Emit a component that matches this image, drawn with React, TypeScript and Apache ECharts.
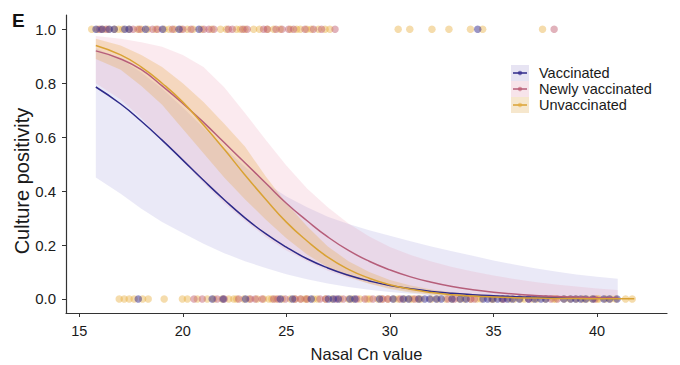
import React, { useEffect, useRef } from "react";
import * as echarts from "echarts";

// ---- axis ticks ----
const xTicks = [15, 20, 25, 30, 35, 40];
const yTicks = [0, 0.2, 0.4, 0.6, 0.8, 1.0];

// ---- fitted curves (Nasal Cn grid) ----
const cnGrid = [15.8, 17, 18, 19, 20, 21, 22, 23, 24, 25, 26, 27, 28, 29, 30, 31, 32, 33, 34, 35, 36, 37, 38, 39, 40, 41];
const cnGridUnvax = [15.8, 17, 18, 19, 20, 21, 22, 23, 24, 25, 26, 27, 28, 29, 30, 31, 32, 33, 34, 35, 36, 37, 38, 39, 40, 41, 41.8];

const vaxFit = [0.786, 0.723, 0.659, 0.589, 0.515, 0.44, 0.368, 0.301, 0.242, 0.192, 0.149, 0.115, 0.088, 0.067, 0.05, 0.038, 0.028, 0.021, 0.016, 0.012, 0.0087, 0.0064, 0.0048, 0.0035, 0.0026, 0.0019];
const vaxLow = [0.45, 0.39, 0.335, 0.285, 0.245, 0.205, 0.17, 0.14, 0.115, 0.092, 0.073, 0.057, 0.044, 0.034, 0.026, 0.019, 0.014, 0.01, 0.007, 0.005, 0.0035, 0.0025, 0.0017, 0.0012, 0.0008, 0.0005];
const vaxHigh = [0.93, 0.89, 0.84, 0.78, 0.71, 0.635, 0.56, 0.49, 0.43, 0.38, 0.34, 0.305, 0.278, 0.255, 0.234, 0.214, 0.195, 0.177, 0.16, 0.143, 0.128, 0.114, 0.102, 0.091, 0.082, 0.075];

const newFit = [0.92, 0.89, 0.85, 0.79, 0.725, 0.655, 0.58, 0.505, 0.43, 0.355, 0.29, 0.23, 0.18, 0.14, 0.108, 0.082, 0.062, 0.046, 0.034, 0.025, 0.018, 0.013, 0.0095, 0.007, 0.005, 0.0036];
const newLow = [0.8, 0.74, 0.67, 0.59, 0.51, 0.43, 0.355, 0.29, 0.23, 0.18, 0.14, 0.105, 0.078, 0.057, 0.041, 0.029, 0.02, 0.014, 0.0095, 0.0065, 0.0045, 0.003, 0.002, 0.0013, 0.0009, 0.0006];
const newHigh = [0.975, 0.965, 0.952, 0.935, 0.905, 0.86, 0.785, 0.69, 0.59, 0.495, 0.41, 0.34, 0.28, 0.232, 0.193, 0.163, 0.139, 0.119, 0.102, 0.087, 0.074, 0.063, 0.054, 0.046, 0.039, 0.033];

const unvaxFit = [0.94, 0.905, 0.86, 0.8, 0.73, 0.645, 0.555, 0.46, 0.37, 0.285, 0.215, 0.155, 0.11, 0.077, 0.053, 0.036, 0.024, 0.016, 0.011, 0.0075, 0.005, 0.0033, 0.0022, 0.0015, 0.001, 0.0007, 0.0005];
const unvaxLow = [0.89, 0.85, 0.79, 0.72, 0.63, 0.54, 0.45, 0.37, 0.295, 0.225, 0.165, 0.118, 0.082, 0.056, 0.037, 0.024, 0.016, 0.01, 0.006, 0.004, 0.0025, 0.0015, 0.001, 0.0006, 0.0004, 0.0002, 0.0001];
const unvaxHigh = [0.965, 0.94, 0.905, 0.86, 0.8, 0.73, 0.65, 0.565, 0.455, 0.355, 0.27, 0.195, 0.14, 0.1, 0.07, 0.05, 0.035, 0.025, 0.018, 0.013, 0.009, 0.0065, 0.0047, 0.0034, 0.0025, 0.0018, 0.0012];

// ---- observations: culture positive (1) ----
const vaxPos = [15.81, 16.1, 16.45, 16.69, 17.2, 17.41, 18.2, 19.02, 19.82, 20.78, 34.24];
const newPos = [16.0, 16.3, 17.6, 17.9, 18.54, 18.78, 19.5, 20.0, 20.4, 21.02, 21.26, 21.5, 22.2, 22.39, 22.9, 23.11, 23.9, 24.07, 24.5, 24.79, 25.11, 25.35, 25.9, 26.31, 26.7, 27.35, 37.93];
const unvaxPos = [15.6, 15.9, 16.14, 16.4, 16.7, 16.9, 17.1, 17.4, 17.82, 18.0, 18.3, 18.7, 19.1, 19.34, 19.6, 19.9, 20.22, 20.5, 20.9, 21.4, 21.82, 22.1, 22.6, 22.78, 23.0, 23.42, 23.7, 24.1, 24.39, 24.7, 25.2, 25.5, 25.67, 25.99, 26.2, 26.55, 26.87, 27.1, 30.4, 30.96, 32.03, 32.85, 33.89, 34.48, 37.37];

// ---- observations: culture negative (0) ----
const vaxNeg = [17.85, 21.42, 21.95, 23.03, 24.71, 25.3, 26.2, 27.03, 27.27, 27.51, 28.07, 28.31, 29.5, 30.15, 30.64, 30.9, 31.4, 31.68, 31.92, 32.24, 32.48, 33.0, 33.4, 33.68, 34.5, 34.72, 34.96, 35.2, 35.44, 35.68, 35.92, 36.25, 36.7, 37.0, 37.29, 37.53, 38.4, 38.73, 38.97, 39.21, 39.45, 39.8, 40.33, 40.6, 40.97];
const newNeg = [20.54, 20.94, 21.66, 22.0, 22.7, 23.27, 23.5, 23.83, 24.39, 24.6, 24.95, 25.43, 25.7, 25.99, 26.63, 26.9, 27.4, 27.75, 28.4, 28.79, 29.18, 29.66, 29.9, 30.5, 31.2, 32.8, 33.12, 33.9, 34.08, 35.5, 36.7, 37.77, 38.09, 39.9];
const unvaxNeg = [16.93, 17.17, 17.41, 17.65, 18.06, 18.33, 19.1, 19.98, 20.22, 20.7, 21.18, 21.5, 21.9, 22.22, 22.46, 22.6, 22.95, 23.2, 23.59, 23.9, 24.15, 24.3, 24.5, 24.8, 25.19, 25.4, 25.67, 25.9, 26.0, 26.31, 26.5, 26.9, 27.2, 27.6, 28.0, 28.2, 28.55, 28.9, 29.03, 29.42, 29.6, 29.9, 30.2, 30.4, 30.7, 30.96, 31.1, 31.36, 31.5, 32.0, 32.3, 32.7, 33.0, 33.36, 33.6, 33.9, 34.2, 34.4, 34.9, 35.0, 35.4, 35.8, 36.0, 36.3, 36.49, 36.89, 37.1, 37.5, 37.9, 38.0, 38.41, 38.7, 39.0, 39.3, 39.5, 39.77, 40.0, 40.09, 40.4, 40.65, 40.9, 41.38, 41.7];

const groups = ["Vaccinated", "Newly vaccinated", "Unvaccinated"];
const lineColors = ["#2e2a8a", "#b65e7a", "#d9a233"];
const bandColors = ["rgba(95,85,195,0.13)", "rgba(232,140,165,0.18)", "rgba(228,165,60,0.27)"];
const pointColors = ["rgba(50,40,140,0.62)", "rgba(190,88,108,0.58)", "rgba(230,170,55,0.52)"];
const keyFills = ["#e7e4f3", "#f7e4ea", "#f6e7cd"];

const FONT = "Liberation Sans, Arial, sans-serif";

function bandSeries(name: string, xs: number[], lo: number[], hi: number[], color: string) {
  return {
    type: "custom",
    name,
    silent: true,
    z: 1,
    data: [[xs[0], lo[0]]],
    renderItem: (_p: any, api: any) => {
      const pts: number[][] = [];
      for (let i = 0; i < xs.length; i++) pts.push(api.coord([xs[i], hi[i]]));
      for (let i = xs.length - 1; i >= 0; i--) pts.push(api.coord([xs[i], lo[i]]));
      return { type: "polygon", shape: { points: pts }, style: { fill: color } };
    },
  };
}

function lineSeries(name: string, xs: number[], ys: number[], color: string) {
  return {
    type: "line",
    name,
    z: 3,
    smooth: true,
    showSymbol: false,
    silent: true,
    lineStyle: { color, width: 1.5 },
    data: xs.map((x, i) => [x, ys[i]]),
  };
}

function pointSeries(name: string, xs: number[], y: number, color: string) {
  return {
    type: "scatter",
    name,
    z: 2,
    symbolSize: 7.5,
    silent: true,
    itemStyle: { color },
    data: xs.map((x) => [x, y]),
  };
}

export default function App() {
  const ref = useRef<HTMLDivElement>(null);
  useEffect(() => {
    if (!ref.current) return;
    const chart = echarts.init(ref.current, undefined, { renderer: "svg" });
    const legendGraphics: any[] = [];
    const rowY = [73, 89, 105];
    groups.forEach((g, i) => {
      legendGraphics.push({
        type: "rect",
        shape: { x: 511, y: rowY[i] - 8, width: 18, height: 16 },
        style: { fill: keyFills[i] },
      });
      legendGraphics.push({
        type: "line",
        shape: { x1: 513, y1: rowY[i], x2: 527, y2: rowY[i] },
        style: { stroke: lineColors[i], lineWidth: 1.5 },
      });
      legendGraphics.push({
        type: "circle",
        shape: { cx: 520, cy: rowY[i], r: 2.2 },
        style: { fill: pointColors[i] },
      });
      legendGraphics.push({
        type: "text",
        x: 539,
        y: rowY[i],
        style: { text: g, fontFamily: FONT, fontSize: 14.5, fill: "#1a1a1a", verticalAlign: "middle" },
      });
    });

    chart.setOption({
      animation: false,
      grid: { left: 66, right: 13, top: 15, bottom: 52, outerBoundsMode: "none", containLabel: false },
      xAxis: {
        type: "value",
        min: 14.36,
        max: 43.38,
        name: "Nasal Cn value",
        nameLocation: "middle",
        nameGap: 32,
        nameTextStyle: { fontFamily: FONT, fontSize: 16.5, color: "#1a1a1a" },
        axisLine: { show: true, onZero: false, lineStyle: { color: "#333", width: 1.2 } },
        axisTick: { show: true, length: 4, customValues: xTicks, lineStyle: { color: "#333" } },
        axisLabel: { customValues: xTicks, fontFamily: FONT, fontSize: 14.5, color: "#1a1a1a", margin: 10 },
        splitLine: { show: false },
      },
      yAxis: {
        type: "value",
        min: -0.052,
        max: 1.053,
        axisLine: { show: true, onZero: false, lineStyle: { color: "#333", width: 1.2 } },
        axisTick: { show: true, length: 4, customValues: yTicks, lineStyle: { color: "#333" } },
        axisLabel: {
          customValues: yTicks,
          fontFamily: FONT,
          fontSize: 15,
          color: "#1a1a1a",
          margin: 10,
          formatter: (v: number) => v.toFixed(1),
        },
        splitLine: { show: false },
      },
      graphic: [
        {
          type: "text",
          left: 12,
          top: 11,
          style: { text: "E", fontFamily: FONT, fontSize: 19, fontWeight: "bold", fill: "#111" },
        },
        {
          type: "text",
          x: 22,
          y: 181,
          rotation: Math.PI / 2,
          style: {
            text: "Culture positivity",
            fontFamily: FONT,
            fontSize: 20,
            fill: "#1a1a1a",
            align: "center",
            verticalAlign: "middle",
          },
        },
        ...legendGraphics,
      ],
      series: [
        pointSeries(groups[2], unvaxPos, 1, pointColors[2]),
        pointSeries(groups[1], newPos, 1, pointColors[1]),
        pointSeries(groups[0], vaxPos, 1, pointColors[0]),
        pointSeries(groups[2], unvaxNeg, 0, pointColors[2]),
        pointSeries(groups[1], newNeg, 0, pointColors[1]),
        pointSeries(groups[0], vaxNeg, 0, pointColors[0]),
        bandSeries(groups[0], cnGrid, vaxLow, vaxHigh, bandColors[0]),
        bandSeries(groups[1], cnGrid, newLow, newHigh, bandColors[1]),
        bandSeries(groups[2], cnGridUnvax, unvaxLow, unvaxHigh, bandColors[2]),
        lineSeries(groups[0], cnGrid, vaxFit, lineColors[0]),
        lineSeries(groups[1], cnGrid, newFit, lineColors[1]),
        lineSeries(groups[2], cnGridUnvax, unvaxFit, lineColors[2]),
      ],
    });
    return () => chart.dispose();
  }, []);
  return <div ref={ref} style={{ width: 680, height: 365, position: "absolute", left: 0, top: 0 }} />;
}
